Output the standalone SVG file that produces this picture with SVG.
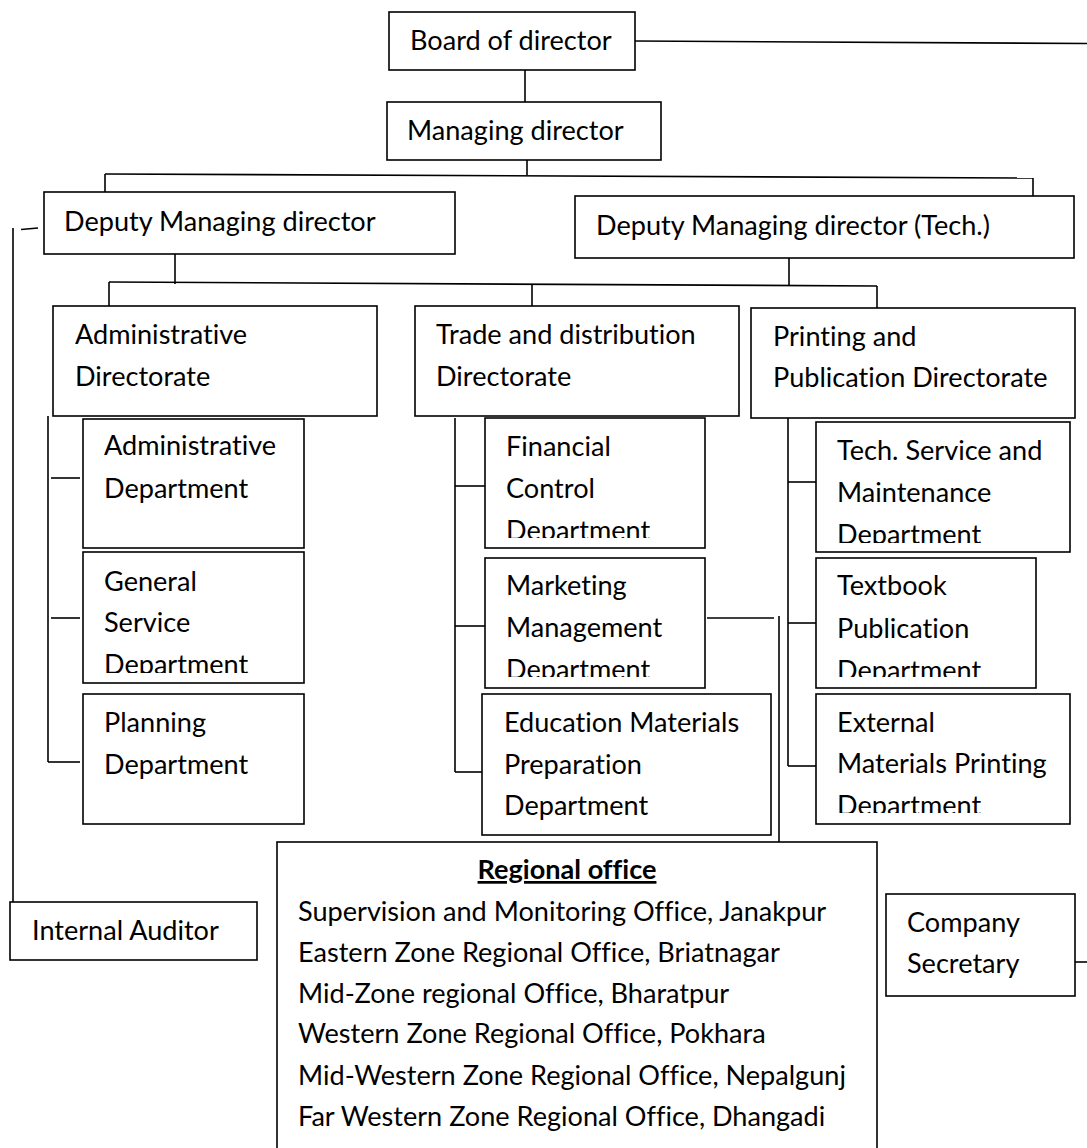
<svg xmlns="http://www.w3.org/2000/svg" width="1087" height="1148" viewBox="0 0 1087 1148">
<style>
  .box { fill: #fff; stroke: #000; stroke-width: 1.6; }
  .t { font-family: Lato, "Liberation Sans", sans-serif; font-size: 27.1px; fill: #000; font-variant-ligatures: none; }
  .b { font-weight: bold; text-decoration: underline; }
  #connectors line { stroke: #000; stroke-width: 1.6; fill: none; }
</style>
<defs>
  <clipPath id="cFin"><rect x="485" y="418" width="220" height="120"/></clipPath>
  <clipPath id="cMkt"><rect x="485" y="558" width="220" height="119"/></clipPath>
  <clipPath id="cGen"><rect x="83" y="552" width="221" height="121"/></clipPath>
  <clipPath id="cTech"><rect x="816" y="422" width="254" height="121"/></clipPath>
  <clipPath id="cTxt"><rect x="816" y="558" width="220" height="119"/></clipPath>
  <clipPath id="cExt"><rect x="816" y="694" width="254" height="119"/></clipPath>
</defs>
<rect width="1087" height="1148" fill="#fff"/>
<g id="connectors">
  <line x1="525" y1="70" x2="525" y2="102"/>
  <line x1="635" y1="41" x2="1087" y2="43.5"/>
  <line x1="527" y1="160" x2="527" y2="175"/>
  <line x1="105" y1="174" x2="1033" y2="178"/>
  <line x1="105" y1="174" x2="105" y2="192"/>
  <line x1="1033" y1="178" x2="1033" y2="196"/>
  <line x1="21" y1="229.5" x2="38" y2="228"/>
  <line x1="13" y1="228" x2="13" y2="902"/>
  <line x1="175" y1="254" x2="175" y2="284"/>
  <line x1="109" y1="282" x2="877" y2="286"/>
  <line x1="109" y1="282" x2="109" y2="306"/>
  <line x1="532" y1="284" x2="532" y2="306"/>
  <line x1="877" y1="286" x2="877" y2="308"/>
  <line x1="789" y1="258" x2="789" y2="286"/>
  <line x1="48" y1="416" x2="48" y2="762"/>
  <line x1="51" y1="478" x2="80" y2="478"/>
  <line x1="51" y1="618" x2="80" y2="618"/>
  <line x1="48" y1="762" x2="80" y2="762"/>
  <line x1="455" y1="418" x2="455" y2="772"/>
  <line x1="455" y1="486" x2="485" y2="486"/>
  <line x1="455" y1="626" x2="485" y2="626"/>
  <line x1="455" y1="772" x2="482" y2="772"/>
  <line x1="788" y1="418" x2="788" y2="766"/>
  <line x1="788" y1="482" x2="816" y2="482"/>
  <line x1="788" y1="623" x2="816" y2="623"/>
  <line x1="788" y1="766" x2="816" y2="766"/>
  <line x1="707" y1="618" x2="774" y2="618"/>
  <line x1="779" y1="616" x2="779" y2="842"/>
  <line x1="1075" y1="962" x2="1087" y2="962"/>
</g>
<g id="board">
  <rect class="box" x="389" y="12" width="246" height="58"/>
  <text class="t" x="410" y="50">Board of director</text>
</g>
<g id="md">
  <rect class="box" x="387" y="102" width="274" height="58"/>
  <text class="t" x="407" y="140">Managing director</text>
</g>
<g id="dmd">
  <rect class="box" x="44" y="192" width="411" height="62"/>
  <text class="t" x="64" y="231">Deputy Managing director</text>
</g>
<g id="dmdtech">
  <rect class="box" x="575" y="196" width="499" height="62"/>
  <text class="t" x="596" y="235">Deputy Managing director (Tech.)</text>
</g>
<g id="admin-dir">
  <rect class="box" x="53" y="306" width="324" height="110"/>
  <text class="t" x="75" y="344">Administrative</text>
  <text class="t" x="75" y="386">Directorate</text>
</g>
<g id="trade-dir">
  <rect class="box" x="415" y="306" width="324" height="110"/>
  <text class="t" x="436" y="344">Trade and distribution</text>
  <text class="t" x="436" y="386">Directorate</text>
</g>
<g id="print-dir">
  <rect class="box" x="751" y="308" width="324" height="110"/>
  <text class="t" x="773" y="346">Printing and</text>
  <text class="t" x="773" y="387">Publication Directorate</text>
</g>
<g id="admin-dept">
  <rect class="box" x="83" y="419" width="221" height="129"/>
  <text class="t" x="104" y="455">Administrative</text>
  <text class="t" x="104" y="498">Department</text>
</g>
<g id="general">
  <rect class="box" x="83" y="552" width="221" height="131"/>
  <g clip-path="url(#cGen)">
    <text class="t" x="104" y="591">General</text>
    <text class="t" x="104" y="632">Service</text>
    <text class="t" x="104" y="674">Department</text>
  </g>
</g>
<g id="planning">
  <rect class="box" x="83" y="694" width="221" height="130"/>
  <text class="t" x="104" y="732">Planning</text>
  <text class="t" x="104" y="774">Department</text>
</g>
<g id="financial">
  <rect class="box" x="485" y="418" width="220" height="130"/>
  <g clip-path="url(#cFin)">
    <text class="t" x="506" y="456">Financial</text>
    <text class="t" x="506" y="498">Control</text>
    <text class="t" x="506" y="540">Department</text>
  </g>
</g>
<g id="marketing">
  <rect class="box" x="485" y="558" width="220" height="130"/>
  <g clip-path="url(#cMkt)">
    <text class="t" x="506" y="595">Marketing</text>
    <text class="t" x="506" y="637">Management</text>
    <text class="t" x="506" y="679">Department</text>
  </g>
</g>
<g id="education">
  <rect class="box" x="482" y="694" width="289" height="141"/>
  <text class="t" x="504" y="732">Education Materials</text>
  <text class="t" x="504" y="774">Preparation</text>
  <text class="t" x="504" y="815">Department</text>
</g>
<g id="tech">
  <rect class="box" x="816" y="422" width="254" height="130"/>
  <g clip-path="url(#cTech)">
    <text class="t" x="837" y="460">Tech. Service and</text>
    <text class="t" x="837" y="502">Maintenance</text>
    <text class="t" x="837" y="544">Department</text>
  </g>
</g>
<g id="textbook">
  <rect class="box" x="816" y="558" width="220" height="130"/>
  <g clip-path="url(#cTxt)">
    <text class="t" x="837" y="595">Textbook</text>
    <text class="t" x="837" y="638">Publication</text>
    <text class="t" x="837" y="680">Department</text>
  </g>
</g>
<g id="external">
  <rect class="box" x="816" y="694" width="254" height="130"/>
  <g clip-path="url(#cExt)">
    <text class="t" x="837" y="732">External</text>
    <text class="t" x="837" y="773">Materials Printing</text>
    <text class="t" x="837" y="815">Department</text>
  </g>
</g>
<g id="auditor">
  <rect class="box" x="10" y="902" width="247" height="58"/>
  <text class="t" x="32" y="940">Internal Auditor</text>
</g>
<g id="regional">
  <rect class="box" x="277" y="842" width="600" height="320"/>
  <text class="t b" x="567" y="879" text-anchor="middle">Regional office</text>
  <text class="t" x="298" y="921">Supervision and Monitoring Office, Janakpur</text>
  <text class="t" x="298" y="962">Eastern Zone Regional Office, Briatnagar</text>
  <text class="t" x="298" y="1003">Mid-Zone regional Office, Bharatpur</text>
  <text class="t" x="298" y="1043">Western Zone Regional Office, Pokhara</text>
  <text class="t" x="298" y="1085">Mid-Western Zone Regional Office, Nepalgunj</text>
  <text class="t" x="298" y="1126">Far Western Zone Regional Office, Dhangadi</text>
</g>
<g id="secretary">
  <rect class="box" x="886" y="894" width="189" height="102"/>
  <text class="t" x="907" y="932">Company</text>
  <text class="t" x="907" y="973">Secretary</text>
</g>
</svg>
